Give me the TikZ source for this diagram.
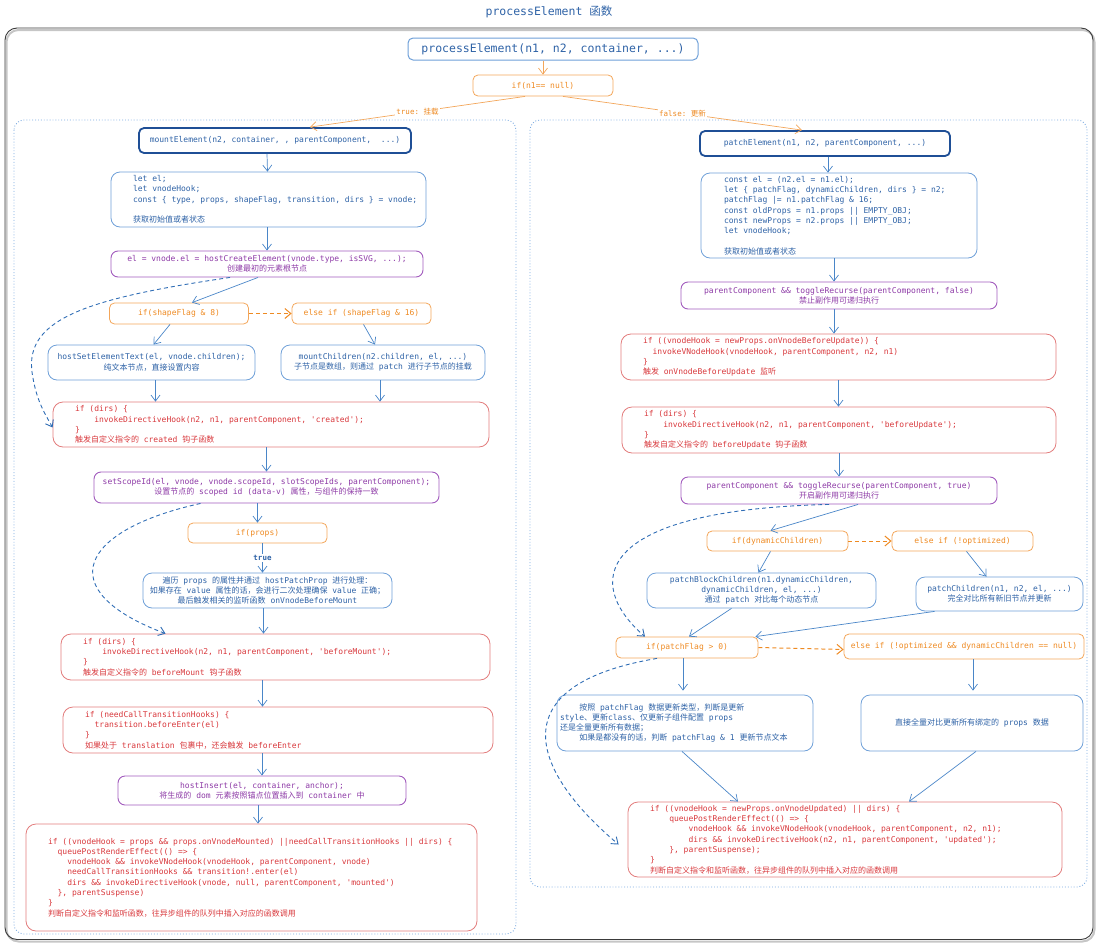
\documentclass[tikz,border=0pt]{standalone}
\usepackage{fontspec}
\setmonofont{DejaVu Sans Mono}
\newfontfamily\cjk{Noto Sans CJK SC}
\newcommand\zh[1]{{\cjk #1}}
\newcommand\ii[1]{\hspace*{#1\fontdimen2\font}}
\newcommand\sk{\spaceskip=\fontdimen2\font\xspaceskip=\fontdimen2\font\relax}
\newcommand\cs{\fontsize{8}{10.3}\selectfont}
\usetikzlibrary{arrows.meta,calc}
\definecolor{bl}{HTML}{2E62A6}
\definecolor{blb}{HTML}{6FA0D8}
\definecolor{dbl}{HTML}{1F4F96}
\definecolor{ob}{HTML}{F3A65A}
\definecolor{ot}{HTML}{EE8A22}
\definecolor{pb}{HTML}{A15BBD}
\definecolor{pt}{HTML}{8D3AA6}
\definecolor{rb}{HTML}{E27C7C}
\definecolor{rt}{HTML}{D8383C}
\definecolor{ab}{HTML}{4A86C8}
\definecolor{dab}{HTML}{2F6DB5}
\definecolor{gp}{HTML}{7BAAE0}
\definecolor{fr}{HTML}{3A3A3A}
\tikzset{
  every node/.style={font=\ttfamily\cs},
  bbox/.style={draw=blb, rounded corners=9pt, line width=0.8pt, text=bl, inner ysep=0pt},
  pbox/.style={draw=pb, rounded corners=7pt, line width=0.9pt, text=pt, inner ysep=0pt},
  rbox/.style={draw=rb, rounded corners=10pt, line width=0.8pt, text=rt, inner ysep=0pt},
  obox/.style={draw=ob, rounded corners=5pt, line width=0.8pt, text=ot, inner ysep=0pt},
  hbox/.style={draw=dbl, rounded corners=5pt, line width=1.8pt, text=bl, inner ysep=0pt},
  pebox/.style={draw=blb, rounded corners=5pt, line width=1pt, text=bl, inner ysep=0pt, font=\ttfamily\fontsize{11.5}{13}\selectfont},
  grp/.style={draw=gp, dotted, line width=0.9pt, rounded corners=10pt},
  arr/.style={draw=ab, line width=0.7pt, -{Straight Barb[length=6pt,width=9pt]}},
  oarr/.style={draw=ob, line width=0.7pt, -{Straight Barb[length=6pt,width=9pt]}},
  odash/.style={draw=ot, line width=1pt, dash pattern=on 4pt off 3pt, -{Straight Barb[length=6pt,width=10pt]}},
  bdash/.style={draw=dab, line width=0.9pt, dash pattern=on 4pt off 3pt, -{Straight Barb[length=6pt,width=9pt]}},
  olab/.style={text=ot, fill=white, inner sep=1pt, font=\ttfamily\fontsize{7.5}{8}\selectfont},
  blab/.style={text=bl, fill=white, inner sep=1pt, font=\ttfamily\bfseries\fontsize{7.5}{8}\selectfont},
}
\begin{document}
\begin{tikzpicture}[x=1pt,y=-1pt]
\useasboundingbox (0,0) rectangle (1098,945);
\node[text=bl, font=\ttfamily\fontsize{11.5}{13}\selectfont] (title) at (549,12) {processElement \zh{函数}};
% frame
\draw[gray!45, line width=2pt, rounded corners=12pt] (6.5,30) rectangle (1094.5,941.5);
\draw[fr, line width=0.9pt, rounded corners=12pt] (5,28) rectangle (1093,939.5);
\draw[grp] (14,120) rectangle (516,934);
\draw[grp] (530,120) rectangle (1087,887);

% top
\node[pebox, minimum width=290pt, minimum height=22pt] (pe) at (553,49) {processElement(n1, n2, container, ...)};
\node[obox, minimum width=140pt, minimum height=21pt] (ifn) at (543,85.5) {if(n1== null)};

% left column
\node[hbox, minimum width=272pt, minimum height=25pt] (me) at (275,140.5) {mountElement(n2, container, , parentComponent,\ii{2}...)};
\node[bbox, minimum width=315pt, minimum height=55pt, text width=271pt, inner xsep=22pt, align=left] (lb) at (268.5,199.5) {\sk let el;\\let vnodeHook;\\\mbox{const \{ type, props, shapeFlag, transition, dirs \} = vnode;}\\[10.3pt]\zh{获取初始值或者状态}};
\node[pbox, minimum width=312pt, minimum height=26pt, align=center] (hc) at (267,264) {el = vnode.el = hostCreateElement(vnode.type, isSVG, ...);\\\zh{创建最初的元素根节点}};
\node[obox, minimum width=139pt, minimum height=21pt] (if8) at (179,313.5) {if(shapeFlag \& 8)};
\node[obox, minimum width=139pt, minimum height=21pt] (if16) at (361.5,313.5) {else if (shapeFlag \& 16)};
\node[bbox, minimum width=207pt, minimum height=35pt, align=center] (hst) at (151.5,362.5) {hostSetElementText(el, vnode.children);\\\zh{纯文本节点，直接设置内容}};
\node[bbox, minimum width=204pt, minimum height=35pt, align=center] (mc) at (383,362.5) {mountChildren(n2.children, el, ...)\\\zh{子节点是数组，则通过} patch \zh{进行子节点的挂载}};
\node[rbox, minimum width=436pt, minimum height=45pt, text width=392pt, inner xsep=22pt, align=left] (dc) at (271,424.5) {\sk if (dirs) \{\\\ii{4}invokeDirectiveHook(n2, n1, parentComponent, 'created');\\\}\\\zh{触发自定义指令的} created \zh{钩子函数}};
\node[pbox, minimum width=345pt, minimum height=31pt, align=center] (sc) at (266.5,487.5) {setScopeId(el, vnode, vnode.scopeId, slotScopeIds, parentComponent);\\\zh{设置节点的} scoped id (data-v) \zh{属性，与组件的保持一致}};
\node[obox, minimum width=139pt, minimum height=20pt] (ip) at (257.5,533) {if(props)};
\node[bbox, minimum width=249pt, minimum height=35pt, align=center, font=\ttfamily\fontsize{8}{10}\selectfont] (tp) at (267.5,590.5) {\zh{遍历} props \zh{的属性并通过} hostPatchProp \zh{进行处理：}\\\zh{如果存在} value \zh{属性的话，会进行二次处理确保} value \zh{正确；}\\\zh{最后触发相关的监听函数} onVnodeBeforeMount};
\node[rbox, minimum width=429pt, minimum height=46pt, text width=385pt, inner xsep=22pt, align=left] (bm) at (275.5,657) {\sk if (dirs) \{\\\ii{4}invokeDirectiveHook(n2, n1, parentComponent, 'beforeMount');\\\}\\\zh{触发自定义指令的} beforeMount \zh{钩子函数}};
\node[rbox, minimum width=430pt, minimum height=46pt, text width=386pt, inner xsep=22pt, align=left] (nt) at (278,730) {\sk if (needCallTransitionHooks) \{\\\ii{2}transition.beforeEnter(el)\\\}\\\zh{如果处于} translation \zh{包裹中，还会触发} beforeEnter};
\node[pbox, minimum width=288pt, minimum height=29pt, align=center] (hi) at (262,790.5) {hostInsert(el, container, anchor);\\\zh{将生成的} dom \zh{元素按照锚点位置插入到} container \zh{中}};
\node[rbox, minimum width=451pt, minimum height=107pt, text width=407pt, inner xsep=22pt, align=left] (mt) at (251.5,877.5) {\sk\mbox{if ((vnodeHook = props \&\& props.onVnodeMounted) ||needCallTransitionHooks || dirs) \{}\\\ii{2}queuePostRenderEffect(() => \{\\\ii{4}vnodeHook \&\& invokeVNodeHook(vnodeHook, parentComponent, vnode)\\\ii{4}needCallTransitionHooks \&\& transition!.enter(el)\\\ii{4}dirs \&\& invokeDirectiveHook(vnode, null, parentComponent, 'mounted')\\\ii{2}\}, parentSuspense)\\\}\\\zh{判断自定义指令和监听函数，往异步组件的队列中插入对应的函数调用}};

% right column
\node[hbox, minimum width=250pt, minimum height=25pt] (pe2) at (825,143.5) {patchElement(n1, n2, parentComponent, ...)};
\node[bbox, minimum width=276pt, minimum height=85pt, text width=230pt, inner xsep=23pt, align=left] (cb) at (839,215.5) {\sk const el = (n2.el = n1.el);\\let \{ patchFlag, dynamicChildren, dirs \} = n2;\\patchFlag |= n1.patchFlag \& 16;\\const oldProps = n1.props || EMPTY\_OBJ;\\const newProps = n2.props || EMPTY\_OBJ;\\let vnodeHook;\\[10.3pt]\zh{获取初始值或者状态}};
\node[pbox, minimum width=316pt, minimum height=27pt, align=center] (tf) at (839,295.5) {parentComponent \&\& toggleRecurse(parentComponent, false)\\\zh{禁止副作用可递归执行}};
\node[rbox, minimum width=435pt, minimum height=46pt, text width=391pt, inner xsep=22pt, align=left] (bu) at (838.5,357) {\sk if ((vnodeHook = newProps.onVnodeBeforeUpdate)) \{\\\ii{2}invokeVNodeHook(vnodeHook, parentComponent, n2, n1)\\\}\\\zh{触发} onVnodeBeforeUpdate \zh{监听}};
\node[rbox, minimum width=434pt, minimum height=46pt, text width=390pt, inner xsep=22pt, align=left] (bd) at (839,430) {\sk if (dirs) \{\\\ii{4}invokeDirectiveHook(n2, n1, parentComponent, 'beforeUpdate');\\\}\\\zh{触发自定义指令的} beforeUpdate \zh{钩子函数}};
\node[pbox, minimum width=316pt, minimum height=27pt, align=center] (tt) at (839,490.5) {parentComponent \&\& toggleRecurse(parentComponent, true)\\\zh{开启副作用可递归执行}};
\node[obox, minimum width=141pt, minimum height=20pt] (idc) at (777.5,541) {if(dynamicChildren)};
\node[obox, minimum width=141pt, minimum height=20pt] (eio) at (962.5,541) {else if (!optimized)};
\node[bbox, minimum width=229pt, minimum height=35pt, align=center, font=\ttfamily\fontsize{8}{10}\selectfont] (pbc) at (761.5,590.5) {patchBlockChildren(n1.dynamicChildren,\\dynamicChildren, el, ...)\\\zh{通过} patch \zh{对比每个动态节点}};
\node[bbox, minimum width=167pt, minimum height=34pt, align=center] (pch) at (999.5,594) {patchChildren(n1, n2, el, ...)\\\zh{完全对比所有新旧节点并更新}};
\node[obox, minimum width=142pt, minimum height=21pt] (ipf) at (687,647.5) {if(patchFlag > 0)};
\node[obox, minimum width=240pt, minimum height=25pt] (eio2) at (964,646.5) {else if (!optimized \&\& dynamicChildren == null)};
\node[bbox, minimum width=256pt, minimum height=56pt, text width=250pt, inner xsep=3pt, align=left] (pfb) at (685,723) {\sk\ii{4}\zh{按照} patchFlag \zh{数据更新类型，判断是更新}\\style\zh{、更新}class\zh{、仅更新子组件配置} props\\\zh{还是全量更新所有数据；}\\\ii{4}\zh{如果是都没有的话，判断} patchFlag \& 1 \zh{更新节点文本}};
\node[bbox, minimum width=222pt, minimum height=56pt] (qb) at (972,723) {\zh{直接全量对比更新所有绑定的} props \zh{数据}};
\node[rbox, minimum width=434pt, minimum height=75pt, text width=390pt, inner xsep=22pt, align=left] (ub) at (845,839.5) {\sk if ((vnodeHook = newProps.onVnodeUpdated) || dirs) \{\\\ii{4}queuePostRenderEffect(() => \{\\\ii{8}vnodeHook \&\& invokeVNodeHook(vnodeHook, parentComponent, n2, n1);\\\ii{8}dirs \&\& invokeDirectiveHook(n2, n1, parentComponent, 'updated');\\\ii{4}\}, parentSuspense);\\\}\\\zh{判断自定义指令和监听函数，往异步组件的队列中插入对应的函数调用}};

% connectors top
\draw[oarr] (pe.south -| ifn.north) -- (ifn.north);
\draw[oarr] ([xshift=-18pt]ifn.south) -- node[olab] {true: \zh{挂载}} ([xshift=35pt]me.north);
\draw[oarr] ([xshift=20pt]ifn.south) -- node[olab] {false: \zh{更新}} ([xshift=-23pt]pe2.north);

% left connectors
\draw[arr] ([xshift=-8pt]me.south) -- ([xshift=-1pt]lb.north);
\draw[arr] (hc.north |- lb.south) -- (hc.north);
\draw[arr] ([xshift=-9pt]hc.south) -- ([xshift=13pt]if8.north);
\draw[bdash] ([xshift=-37pt]hc.south) .. controls (90,298) and (25,318) .. (32,372) .. controls (36,400) and (44,412) .. ([yshift=-3pt]dc.west);
\draw[odash] (if8.east) -- (if16.west);
\draw[arr] ([xshift=-9pt]if8.south) -- ([xshift=2pt]hst.north);
\draw[arr] ([xshift=2pt]if16.south) -- ([xshift=-8pt]mc.north);
\draw[arr] ([xshift=4pt]hst.south) -- ([xshift=4pt]hst.south |- dc.north);
\draw[arr] ([xshift=-3pt]mc.south) -- ([xshift=-3pt]mc.south |- dc.north);
\draw[arr] (sc.north |- dc.south) -- (sc.north);
\draw[arr] (ip.north |- sc.south) -- (ip.north);
\draw[bdash] ([xshift=-66pt]sc.south) .. controls (80,530) and (50,590) .. ([xshift=-110pt]bm.north);
\draw[arr] ([xshift=5pt]ip.south) -- node[blab] {true} ([xshift=5pt]ip.south |- tp.north);
\draw[arr] ([xshift=-4pt]tp.south) -- ([xshift=-4pt]tp.south |- bm.north);
\draw[arr] ([xshift=-13pt]bm.south) -- ([xshift=-13pt]bm.south |- nt.north);
\draw[arr] ([xshift=-16pt]nt.south) -- ([xshift=-16pt]nt.south |- hi.north);
\draw[arr] ([xshift=-4pt]hi.south) -- ([xshift=-4pt]hi.south |- mt.north);

% right connectors
\draw[arr] ([xshift=3pt]pe2.south) -- ([xshift=3pt]pe2.south |- cb.north);
\draw[arr] ([xshift=-5pt]cb.south) -- ([xshift=-5pt]cb.south |- tf.north);
\draw[arr] ([xshift=-5pt]tf.south) -- ([xshift=-5pt]tf.south |- bu.north);
\draw[arr] ([xshift=0pt]bu.south) -- ([xshift=0pt]bu.south |- bd.north);
\draw[arr] ([xshift=0pt]bd.south) -- ([xshift=0pt]bd.south |- tt.north);
\draw[arr] ([xshift=19pt]tt.south) -- ([xshift=-7pt]idc.north);
\draw[bdash] ([xshift=-10pt]tt.south) .. controls (590,510) and (585,585) .. ([xshift=-42pt]ipf.north);
\draw[odash] (idc.east) -- (eio.west);
\draw[arr] ([xshift=-7pt]idc.south) -- ([xshift=-3pt]pbc.north);
\draw[arr] ([xshift=4pt]eio.south) -- ([xshift=-13pt]pch.north);
\draw[arr] ([xshift=-30pt]pbc.south) -- ([xshift=2pt]ipf.north);
\draw[arr] ([xshift=-65pt]pch.south) -- ([xshift=-3pt]ipf.north east);
\draw[odash] (ipf.east) -- ([yshift=-3pt]eio2.west);
\draw[arr, shorten >=4pt] ([xshift=-4pt]ipf.south) -- ([xshift=-4pt]ipf.south |- pfb.north);
\draw[arr, shorten >=4pt] ([xshift=9pt]eio2.south) -- ([xshift=9pt]eio2.south |- qb.north);
\draw[arr] ([xshift=-3pt]pfb.south) -- ([xshift=-107pt]ub.north);
\draw[arr] ([xshift=4pt]qb.south) -- ([xshift=64pt]ub.north);
\draw[bdash] ([xshift=-30pt]ipf.south) .. controls (500,685) and (530,770) .. ([xshift=-9pt,yshift=-5pt]ub.west);
\end{tikzpicture}
\end{document}
